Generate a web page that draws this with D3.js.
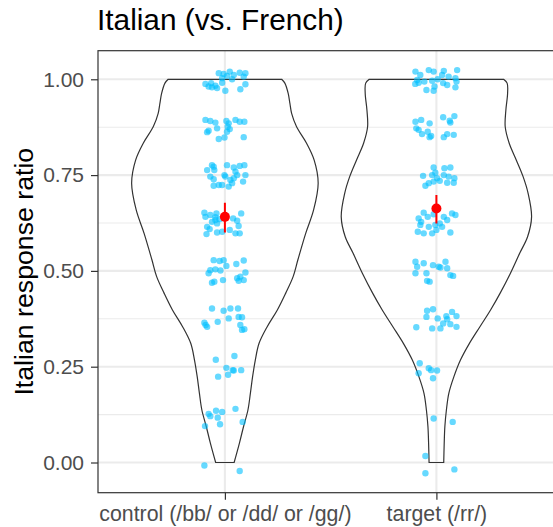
<!DOCTYPE html>
<html>
<head>
<meta charset="utf-8">
<script src="https://cdn.jsdelivr.net/npm/d3@7/dist/d3.min.js"></script>
<style>
  html, body { margin: 0; padding: 0; background: #fff; }
  svg { display: block; }
  text { font-family: "Liberation Sans", Arial, Helvetica, sans-serif; }
</style>
</head>
<body>
<svg id="chart" width="553" height="527"></svg>
<script>
// Conditions on the x axis
const categories = ["control (/bb/ or /dd/ or /gg/)", "target (/rr/)"];

// y axis ticks
const yTicks = [0, 0.25, 0.5, 0.75, 1];
const yMinorTicks = [0.125, 0.375, 0.625, 0.875];

// Mean response ratio per condition, with its error interval
const means = [0.641, 0.663];
const ciLow = [0.600, 0.624];
const ciHigh = [0.678, 0.698];

// Violin outlines: [ratio, relative density]
const controlDensity = [
  [0.000, 0.097], [0.050, 0.152], [0.094, 0.196], [0.137, 0.242], [0.181, 0.268],
  [0.224, 0.291], [0.268, 0.320], [0.311, 0.359], [0.355, 0.446], [0.398, 0.551],
  [0.442, 0.639], [0.485, 0.717], [0.529, 0.767], [0.598, 0.849], [0.659, 0.932],
  [0.729, 0.980], [0.789, 0.938], [0.833, 0.858], [0.876, 0.753], [0.911, 0.701],
  [0.937, 0.683], [0.963, 0.665], [0.990, 0.630], [1.000, 0.596]
];
const targetDensity = [
  [0.000, 0.077], [0.050, 0.082], [0.094, 0.089], [0.137, 0.105], [0.181, 0.131],
  [0.224, 0.184], [0.268, 0.254], [0.311, 0.347], [0.355, 0.459], [0.398, 0.569],
  [0.442, 0.670], [0.494, 0.778], [0.546, 0.875], [0.589, 0.958], [0.641, 1.000],
  [0.703, 0.963], [0.746, 0.911], [0.789, 0.840], [0.833, 0.765], [0.876, 0.723],
  [0.920, 0.730], [0.963, 0.748], [0.990, 0.743], [1.000, 0.706]
];

// Participant ratios: [ratio, horizontal jitter in category widths]
const controlPoints = [
  [1.016,-0.029],[1.014,-0.006],[1.020,0.023],[1.009,0.010],[1.011,0.042],[1.017,0.070],[1.016,0.097],
  [1.007,0.089],[1.000,0.034],[1.003,-0.013],[0.988,-0.092],[0.990,-0.065],[0.979,-0.061],[0.977,-0.037],
  [0.991,-0.013],[0.970,0.002],[0.974,0.073],[0.987,0.097],[0.983,-0.045],[0.981,-0.077],
  [0.894,-0.092],[0.891,-0.069],[0.887,-0.045],[0.891,0.007],[0.885,0.018],[0.894,0.050],[0.889,0.070],
  [0.889,0.092],[0.876,0.013],[0.870,0.023],[0.872,-0.037],[0.866,-0.077],[0.862,-0.084],[0.863,0.010],
  [0.844,-0.029],[0.848,-0.002],[0.849,0.089],
  [0.776,-0.061],[0.772,-0.053],[0.776,0.010],[0.770,0.042],[0.774,0.070],[0.776,0.092],[0.763,-0.084],
  [0.763,-0.050],[0.750,-0.002],[0.759,0.050],[0.750,0.058],[0.750,0.097],[0.746,-0.069],[0.739,-0.053],
  [0.737,0.026],[0.729,0.034],[0.733,0.086],[0.722,-0.053],[0.724,-0.029],[0.724,-0.013],[0.720,0.018],
  [0.746,0.002],[0.742,0.042],
  [0.652,-0.097],[0.641,-0.092],[0.646,-0.069],[0.650,-0.040],[0.640,-0.045],[0.628,-0.061],[0.624,-0.037],
  [0.615,-0.084],[0.596,-0.087],[0.609,-0.072],[0.600,-0.037],[0.602,-0.013],[0.607,0.023],[0.598,0.050],
  [0.598,0.070],[0.617,0.065],[0.631,0.058],[0.650,0.077],[0.637,0.039],[0.635,-0.025],[0.633,-0.045],
  [0.528,-0.053],[0.526,-0.025],[0.528,-0.006],[0.513,0.007],[0.518,0.054],[0.527,0.089],[0.502,-0.069],
  [0.504,-0.045],[0.501,-0.021],[0.494,-0.077],[0.469,-0.061],[0.472,-0.050],[0.476,-0.009],[0.481,0.058],
  [0.485,0.073],[0.476,0.089],[0.496,0.097],[0.474,0.065],
  [0.402,-0.061],[0.396,-0.006],[0.402,0.026],[0.402,0.062],[0.365,-0.097],[0.354,-0.084],[0.367,-0.034],
  [0.376,0.018],[0.380,0.065],[0.379,0.081],[0.359,0.073],[0.346,0.081],[0.348,0.092],[0.359,-0.091],
  [0.278,0.045],[0.268,-0.043],[0.247,0.007],[0.241,0.037],[0.240,0.042],[0.241,0.077],[0.229,0.015],
  [0.224,-0.032],
  [0.140,0.050],[0.135,-0.042],[0.132,-0.013],[0.127,-0.077],[0.121,-0.069],[0.117,-0.034],[0.095,-0.094],
  [0.100,-0.023],[0.106,0.084],
  [-0.008,-0.097],[-0.022,0.070]
];
const targetPoints = [
  [1.020,-0.099],[1.011,-0.076],[1.024,-0.036],[1.020,-0.013],[1.022,0.035],[1.024,0.098],[1.011,0.027],
  [1.007,0.058],[1.003,0.090],[0.988,-0.100],[0.991,-0.084],[0.994,-0.057],[0.996,-0.020],[1.000,0.006],
  [0.990,0.032],[0.985,0.051],[0.994,0.095],[0.979,0.090],[0.972,-0.047],[0.970,-0.013],[0.981,-0.009],
  [0.998,-0.091],
  [0.889,-0.099],[0.894,-0.072],[0.885,-0.032],[0.901,0.032],[0.892,0.063],[0.904,0.085],[0.887,0.066],
  [0.872,-0.095],[0.868,-0.084],[0.857,-0.068],[0.863,-0.041],[0.852,-0.025],[0.849,-0.032],[0.849,0.035],
  [0.857,0.051],[0.855,0.082],
  [0.770,-0.013],[0.768,0.038],[0.770,0.066],[0.748,-0.063],[0.750,-0.020],[0.756,-0.005],[0.750,0.035],
  [0.746,0.058],[0.742,0.085],[0.722,-0.052],[0.729,-0.036],[0.733,-0.013],[0.735,0.016],[0.730,0.051],
  [0.730,0.082],[0.742,0.003],
  [0.652,-0.060],[0.637,-0.084],[0.628,-0.072],[0.641,-0.041],[0.648,-0.013],[0.650,0.074],[0.646,0.090],
  [0.624,0.016],[0.633,0.051],[0.602,-0.088],[0.598,-0.060],[0.598,-0.020],[0.607,0.000],[0.615,0.027],
  [0.600,0.066],[0.620,-0.076],[0.615,-0.036],[0.620,-0.005],[0.641,0.035],
  [0.524,-0.099],[0.520,-0.060],[0.515,-0.016],[0.511,0.011],[0.524,0.043],[0.511,-0.091],[0.494,-0.099],
  [0.494,-0.047],[0.509,0.019],[0.507,0.051],[0.489,0.066],[0.487,0.079],[0.474,-0.044],[0.472,-0.032],
  [0.396,-0.044],[0.400,-0.016],[0.380,-0.047],[0.376,0.006],[0.382,0.047],[0.393,0.074],[0.382,0.095],
  [0.353,-0.095],[0.350,-0.020],[0.350,0.019],[0.363,0.032],[0.361,0.066],[0.354,0.095],[0.374,0.051],
  [0.259,-0.079],[0.246,-0.036],[0.240,0.003],[0.233,-0.084],[0.220,-0.016],[0.241,-0.025],
  [0.115,-0.013],[0.106,0.077],
  [0.017,-0.052],[-0.028,-0.052],[-0.018,0.085]
];

const densities = [controlDensity, targetDensity];
const pointSets = [controlPoints, targetPoints];

// ---- layout ----
const svg = d3.select("#chart");
const panel = { left: 98, top: 50.7, right: 563.3, bottom: 492.7 };

const x = d3.scalePoint()
  .domain(categories)
  .range([panel.left, panel.right])
  .padding(0.6);
const step = x.step();

const y = d3.scaleLinear()
  .domain([-0.0788, 1.0746])
  .range([panel.bottom, panel.top]);

svg.append("clipPath").attr("id", "panel-clip")
  .append("rect")
  .attr("x", panel.left).attr("y", panel.top)
  .attr("width", panel.right - panel.left).attr("height", panel.bottom - panel.top);

const plot = svg.append("g").attr("clip-path", "url(#panel-clip)");

// grid
plot.append("g").selectAll("line").data(yMinorTicks).join("line")
  .attr("x1", panel.left).attr("x2", panel.right)
  .attr("y1", d => y(d)).attr("y2", d => y(d))
  .attr("stroke", "#ebebeb").attr("stroke-width", 1.1);
plot.append("g").selectAll("line").data(yTicks).join("line")
  .attr("x1", panel.left).attr("x2", panel.right)
  .attr("y1", d => y(d)).attr("y2", d => y(d))
  .attr("stroke", "#ebebeb").attr("stroke-width", 2.1);
plot.append("g").selectAll("line").data(categories).join("line")
  .attr("x1", d => x(d)).attr("x2", d => x(d))
  .attr("y1", panel.top).attr("y2", panel.bottom)
  .attr("stroke", "#ebebeb").attr("stroke-width", 2.1);

// violins
const halfMax = 0.45 * step;
categories.forEach((cat, i) => {
  const cx = x(cat);
  const area = d3.area()
    .y(d => y(d[0]))
    .x0(d => cx - d[1] * halfMax)
    .x1(d => cx + d[1] * halfMax)
    .curve(d3.curveCatmullRom.alpha(0.5));
  plot.append("path")
    .datum(densities[i])
    .attr("d", area)
    .attr("fill", "none")
    .attr("stroke", "#333333")
    .attr("stroke-width", 1.2);
});

// jittered participant points
categories.forEach((cat, i) => {
  const cx = x(cat);
  plot.append("g").selectAll("circle").data(pointSets[i]).join("circle")
    .attr("cx", d => cx + d[1] * step)
    .attr("cy", d => y(d[0]))
    .attr("r", 3.2)
    .attr("fill", "#00BFFF")
    .attr("fill-opacity", 0.6);
});

// means with error bars
const meanG = plot.append("g");
meanG.selectAll("line").data(categories).join("line")
  .attr("x1", d => x(d)).attr("x2", d => x(d))
  .attr("y1", (d, i) => y(ciLow[i])).attr("y2", (d, i) => y(ciHigh[i]))
  .attr("stroke", "#ff0000").attr("stroke-width", 2);
meanG.selectAll("circle").data(categories).join("circle")
  .attr("cx", d => x(d))
  .attr("cy", (d, i) => y(means[i]))
  .attr("r", 5)
  .attr("fill", "#ff0000");

// panel border
svg.append("rect")
  .attr("x", panel.left).attr("y", panel.top)
  .attr("width", panel.right - panel.left).attr("height", panel.bottom - panel.top)
  .attr("fill", "none").attr("stroke", "#333333").attr("stroke-width", 1.2);

// y axis
const yAxis = d3.axisLeft(y).tickValues(yTicks).tickFormat(d3.format(".2f")).tickSize(7).tickPadding(7);
const gy = svg.append("g").attr("transform", `translate(${panel.left},0)`).call(yAxis);
gy.select(".domain").remove();
gy.selectAll(".tick line").attr("stroke", "#333333").attr("stroke-width", 1.2);
gy.selectAll(".tick text")
  .attr("fill", "#4d4d4d")
  .style("font-size", "21px")
  .style("font-family", "'Liberation Sans', Arial, sans-serif");

// x axis
const xAxis = d3.axisBottom(x).tickSize(7).tickPadding(6);
const gx = svg.append("g").attr("transform", `translate(0,${panel.bottom})`).call(xAxis);
gx.select(".domain").remove();
gx.selectAll(".tick line").attr("stroke", "#333333").attr("stroke-width", 1.2);
gx.selectAll(".tick text")
  .attr("fill", "#4d4d4d")
  .style("font-size", "21.3px")
  .style("font-family", "'Liberation Sans', Arial, sans-serif");

// axis title
svg.append("text")
  .attr("transform", `translate(33,${(panel.top + panel.bottom) / 2}) rotate(-90)`)
  .attr("text-anchor", "middle")
  .attr("fill", "#000")
  .style("font-size", "26.7px")
  .text("Italian response ratio");

// plot title
svg.append("text")
  .attr("x", 97)
  .attr("y", 30)
  .attr("fill", "#000")
  .style("font-size", "29.8px")
  .text("Italian (vs. French)");
</script>
</body>
</html>
